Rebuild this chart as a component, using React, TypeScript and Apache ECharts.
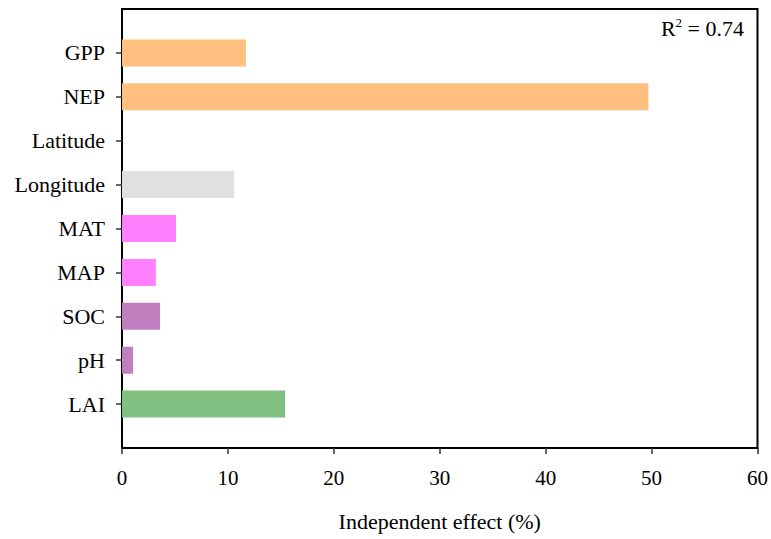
import React, { useEffect, useRef } from "react";
import * as echarts from "echarts";

// categories listed top to bottom
const categories = ["GPP", "NEP", "Latitude", "Longitude", "MAT", "MAP", "SOC", "pH", "LAI"];
const values = [11.7, 49.7, 0, 10.6, 5.1, 3.2, 3.6, 1.05, 15.4];
const colors = ["#FFC07F", "#FFC07F", "#E0E0E0", "#E0E0E0", "#FF80FF", "#FF80FF", "#C080C0", "#C080C0", "#80C080"];
const xTicks = [0, 10, 20, 30, 40, 50, 60];
const r2Label = "0.74";

export default function App() {
  const ref = useRef<HTMLDivElement>(null);
  useEffect(() => {
    if (!ref.current) return;
    const chart = echarts.init(ref.current, null, { renderer: "svg" });
    const cats = ["", ...categories.slice().reverse(), ""];
    const data = [
      null,
      ...values
        .map((v, i) => ({ value: v, itemStyle: { color: colors[i] } }))
        .reverse(),
      null,
    ];
    const font = "'Liberation Serif', 'Times New Roman', serif";
    const fs = 22;
    chart.setOption({
      animation: false,
      backgroundColor: "#fff",
      grid: {
        left: 122,
        right: 13,
        top: 9,
        bottom: 91,
        show: true,
        borderColor: "#000",
        borderWidth: 2,
        containLabel: false,
      },
      xAxis: {
        type: "value",
        min: xTicks[0],
        max: xTicks[xTicks.length - 1],
        interval: 10,
        splitLine: { show: false },
        axisLine: { show: true, lineStyle: { color: "#000", width: 2 } },
        axisTick: { show: true, length: 6, lineStyle: { color: "#333", width: 1.5 } },
        axisLabel: { color: "#000", fontFamily: font, fontSize: 21, margin: 19 },
        name: "Independent effect (%)",
        nameLocation: "middle",
        nameGap: 62,
        nameTextStyle: { color: "#000", fontFamily: font, fontSize: fs },
      },
      yAxis: {
        type: "category",
        data: cats,
        boundaryGap: false,
        axisLine: { show: true, lineStyle: { color: "#000", width: 2 } },
        axisTick: {
          show: true,
          length: 6,
          lineStyle: { color: "#333", width: 1.5 },
          interval: (idx: number) => idx > 0 && idx < cats.length - 1,
        },
        axisLabel: { color: "#000", fontFamily: font, fontSize: fs, margin: 17 },
        splitLine: { show: false },
      },
      series: [
        {
          type: "bar",
          data,
          barWidth: 27,
        },
      ],
      graphic: [
        {
          type: "text",
          right: 27,
          top: 16,
          style: {
            text: "{a|R}{s|2}{a| = " + r2Label + "}",
            rich: {
              a: { fontFamily: font, fontSize: fs, fill: "#000", verticalAlign: "bottom" },
              s: { fontFamily: font, fontSize: 13, fill: "#000", verticalAlign: "top", padding: [0, 0, 10, 0] },
            },
          },
        },
      ],
    });
    return () => chart.dispose();
  }, []);
  return <div ref={ref} style={{ position: "fixed", left: 0, top: 0, width: 771, height: 539 }} />;
}
